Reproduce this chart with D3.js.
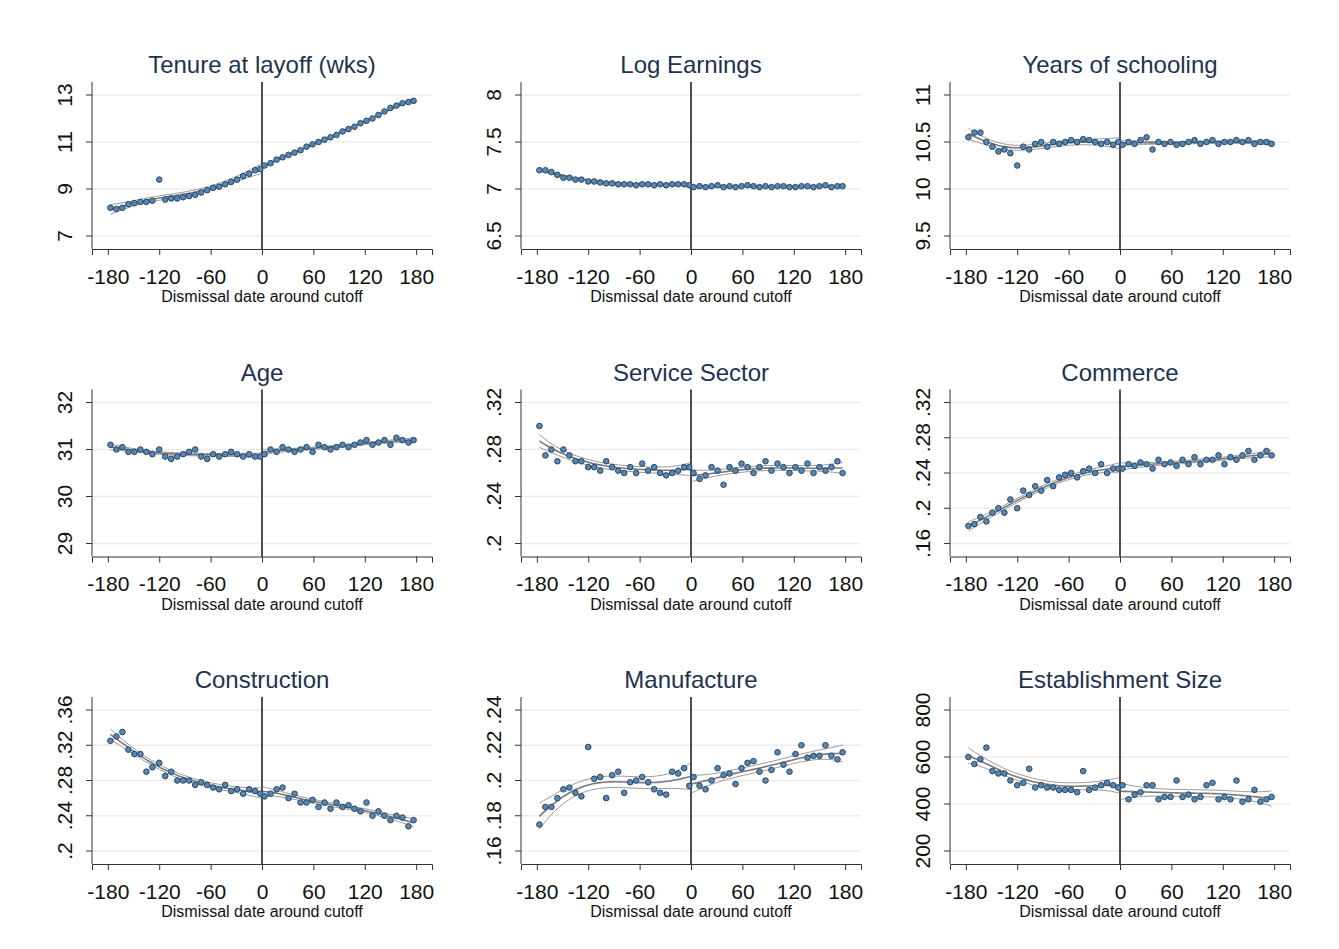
<!DOCTYPE html>
<html><head><meta charset="utf-8">
<script src="https://cdn.jsdelivr.net/npm/d3@7"></script>
<style>body{margin:0;background:#fff}text{font-family:Arial,"Liberation Sans",sans-serif}</style>
</head><body>
<svg id="chart" width="1339" height="949"></svg>
<script>
// bin centres (days around cutoff)
const days = [-177,-170,-163,-156,-149,-142,-135,-128,-120,-113,-106,-99,-92,-85,-78,-71,-64,-57,-50,-43,-36,-29,-22,-15,-8,-2,
  3,10,17,24,31,38,45,52,59,66,73,80,87,94,101,108,115,122,129,136,143,150,157,164,171,177];

const titles = ["Tenure at layoff (wks)","Log Earnings","Years of schooling","Age","Service Sector","Commerce","Construction","Manufacture","Establishment Size"];

const xTicks = [-180,-120,-60,0,60,120,180];
const tickLabels = [
  ["7","9","11","13"],["6.5","7","7.5","8"],["9.5","10","10.5","11"],
  ["29","30","31","32"],[".2",".24",".28",".32"],[".16",".2",".24",".28",".32"],
  [".2",".24",".28",".32",".36"],[".16",".18",".2",".22",".24"],["200","400","600","800"]];

const tenure = [8.2,8.15,8.2,8.35,8.4,8.45,8.45,8.5,9.4,8.55,8.6,8.6,8.65,8.7,8.75,8.85,8.95,9.05,9.1,9.2,9.3,9.4,9.55,9.65,9.8,9.85,
  10.0,10.1,10.25,10.35,10.45,10.55,10.65,10.8,10.9,11.0,11.1,11.2,11.3,11.45,11.55,11.65,11.8,11.9,12.0,12.15,12.3,12.45,12.55,12.65,12.7,12.75];
const logEarn = [7.2,7.2,7.18,7.15,7.12,7.12,7.1,7.1,7.08,7.08,7.07,7.06,7.06,7.05,7.05,7.05,7.04,7.05,7.05,7.04,7.05,7.04,7.05,7.05,7.05,7.04,
  7.02,7.03,7.02,7.03,7.04,7.02,7.03,7.02,7.03,7.04,7.03,7.02,7.03,7.02,7.03,7.03,7.02,7.02,7.03,7.03,7.02,7.03,7.04,7.02,7.03,7.03];
const school = [10.55,10.6,10.6,10.5,10.45,10.4,10.42,10.38,10.25,10.45,10.42,10.48,10.5,10.45,10.5,10.48,10.5,10.52,10.5,10.53,10.52,10.5,10.48,10.5,10.47,10.5,
  10.47,10.5,10.48,10.52,10.55,10.42,10.5,10.48,10.5,10.47,10.48,10.5,10.52,10.48,10.5,10.52,10.48,10.5,10.5,10.52,10.5,10.52,10.48,10.5,10.5,10.48];
const age = [31.1,31.0,31.05,30.95,30.95,31.0,30.95,30.9,31.0,30.85,30.8,30.85,30.9,30.95,31.0,30.85,30.8,30.9,30.85,30.9,30.95,30.9,30.85,30.9,30.85,30.85,
  30.9,31.0,30.95,31.05,31.0,30.95,31.0,31.05,30.95,31.1,31.05,31.0,31.05,31.1,31.05,31.1,31.15,31.2,31.1,31.15,31.2,31.1,31.25,31.2,31.15,31.2];
const service = [.30,.275,.28,.27,.28,.275,.27,.27,.265,.265,.262,.27,.265,.262,.26,.265,.26,.268,.262,.265,.26,.258,.26,.262,.265,.265,
  .26,.255,.258,.265,.262,.25,.265,.262,.268,.265,.26,.265,.27,.262,.268,.265,.26,.265,.262,.268,.26,.265,.262,.265,.27,.26];
const commerce = [.18,.182,.19,.185,.195,.2,.195,.21,.2,.22,.215,.225,.22,.232,.225,.235,.238,.24,.235,.242,.245,.24,.25,.24,.245,.245,
  .245,.25,.248,.252,.25,.245,.255,.25,.252,.248,.255,.25,.258,.25,.255,.255,.26,.25,.258,.255,.26,.265,.255,.26,.265,.26];
const construction = [.325,.33,.335,.315,.31,.31,.29,.295,.3,.285,.29,.28,.28,.28,.275,.278,.275,.272,.27,.275,.268,.27,.265,.27,.268,.265,
  .262,.265,.27,.272,.26,.265,.255,.255,.258,.25,.255,.248,.255,.25,.252,.248,.245,.255,.24,.245,.24,.235,.24,.238,.228,.235];
const manufacture = [.175,.185,.185,.19,.195,.196,.193,.191,.219,.201,.202,.19,.203,.205,.193,.199,.2,.202,.199,.195,.193,.192,.205,.204,.207,.197,
  .202,.197,.195,.2,.207,.203,.204,.198,.207,.21,.211,.205,.2,.206,.216,.209,.205,.215,.22,.213,.214,.214,.22,.214,.212,.216];
const estSize = [600,570,590,640,540,530,530,500,480,490,550,470,480,470,470,460,460,460,450,540,460,470,480,490,480,470,
  480,420,440,450,480,480,420,430,430,500,430,440,420,430,480,490,420,430,420,500,410,420,460,410,420,430];

const series = [tenure,logEarn,school,age,service,commerce,construction,manufacture,estSize];

const svg = d3.select('#chart');
const colW = 429, rowH = 307.5;
const x0 = 92, x1 = 432, yTop = 82, yBot = 249;

// local linear smoother with pointwise band, one side of the cutoff
function smooth(pts, lo, hi, bw) {
  const n = pts.length;
  let sig2 = 0;
  const fitAt = (g) => {
    const w = pts.map(p => Math.exp(-0.5 * ((p[0] - g) / bw) ** 2));
    let S0 = 0, S1 = 0, S2 = 0;
    pts.forEach((p, i) => { const d = p[0] - g; S0 += w[i]; S1 += w[i] * d; S2 += w[i] * d * d; });
    const den = S0 * S2 - S1 * S1;
    const l = pts.map((p, i) => w[i] * (S2 - S1 * (p[0] - g)) / den);
    let f = 0, ll = 0;
    pts.forEach((p, i) => { f += l[i] * p[1]; ll += l[i] * l[i]; });
    return [f, ll];
  };
  pts.forEach(p => { const r = p[1] - fitAt(p[0])[0]; sig2 += r * r; });
  sig2 /= Math.max(1, n - 3);
  const out = [];
  for (let g = lo; g <= hi + 1e-9; g += (hi - lo) / 40) {
    const [f, ll] = fitAt(g);
    const se = Math.sqrt(sig2 * ll);
    out.push({x: g, f, lo: f - 1.96 * se, hi: f + 1.96 * se});
  }
  return out;
}

series.forEach((vals, k) => {
  const col = k % 3, row = Math.floor(k / 3);
  const g = svg.append('g').attr('transform', `translate(${col * colW},${row * rowH})`);
  const labels = tickLabels[k];
  const tv = labels.map(Number);
  const x = d3.scaleLinear().domain([-198.5, 198.5]).range([x0, x1]);
  const y = d3.scaleLinear().domain([tv[0], tv[tv.length - 1]]).range([236, 95]);

  // gridlines
  g.append('g').selectAll('line').data(tv).join('line')
    .attr('x1', x0).attr('x2', x1).attr('y1', d => y(d)).attr('y2', d => y(d))
    .attr('stroke', '#ececec').attr('stroke-width', 1.5);

  // axes
  const ax = g.append('g').attr('transform', `translate(0,${yBot})`)
    .call(d3.axisBottom(x).tickValues(xTicks).tickSize(6).tickFormat(d => String(d)));
  ax.select('.domain').attr('stroke', '#333');
  ax.selectAll('line').attr('stroke', '#333');
  ax.selectAll('text').attr('font-size', 21).attr('fill', '#111').attr('y', 20).attr('dy', '0.71em');
  const ay = g.append('g').attr('transform', `translate(${x0},0)`)
    .call(d3.axisLeft(y).tickValues(tv).tickSize(6).tickFormat((d, i) => labels[i]));
  ay.select('.domain').remove();
  g.append('line').attr('x1', x0).attr('x2', x0).attr('y1', yTop).attr('y2', yBot).attr('stroke', '#333');
  ay.selectAll('line').attr('stroke', '#333');
  ay.selectAll('.tick').attr('transform', null);
  ay.selectAll('.tick line').attr('y1', d => y(d)).attr('y2', d => y(d));
  ay.selectAll('text').attr('font-size', 21).attr('fill', '#111')
    .attr('text-anchor', 'middle').attr('x', 0).attr('y', 0).attr('dy', 0)
    .attr('transform', d => `translate(-20,${y(d)}) rotate(-90)`);

  // cutoff line
  g.append('line').attr('x1', x(0)).attr('x2', x(0)).attr('y1', yTop).attr('y2', yBot)
    .attr('stroke', '#222').attr('stroke-width', 1.6);

  // fits
  const pts = days.map((d, i) => [d, vals[i]]);
  const left = smooth(pts.filter(p => p[0] < 0), -177, -1, 30);
  const right = smooth(pts.filter(p => p[0] > 0), 1, 177, 30);
  [left, right].forEach(side => {
    ['lo', 'hi'].forEach(key => {
      g.append('path').datum(side)
        .attr('d', d3.line().x(d => x(d.x)).y(d => y(d[key])).curve(d3.curveBasis))
        .attr('fill', 'none').attr('stroke', '#9a9a9a').attr('stroke-width', 1);
    });
    g.append('path').datum(side)
      .attr('d', d3.line().x(d => x(d.x)).y(d => y(d.f)).curve(d3.curveBasis))
      .attr('fill', 'none').attr('stroke', '#7a7a7a').attr('stroke-width', 1.6);
  });

  // points
  g.append('g').selectAll('circle').data(pts).join('circle')
    .attr('cx', d => x(d[0])).attr('cy', d => y(d[1])).attr('r', 2.8)
    .attr('fill', '#5b86ad').attr('stroke', '#23466b').attr('stroke-width', 1);

  // titles
  g.append('text').attr('x', (x0 + x1) / 2).attr('y', 73).attr('text-anchor', 'middle')
    .attr('font-size', 24).attr('fill', '#1e3350').text(titles[k]);
  g.append('text').attr('x', (x0 + x1) / 2).attr('y', 302).attr('text-anchor', 'middle')
    .attr('font-size', 16).attr('fill', '#111').text('Dismissal date around cutoff');
});
</script>
</body></html>
